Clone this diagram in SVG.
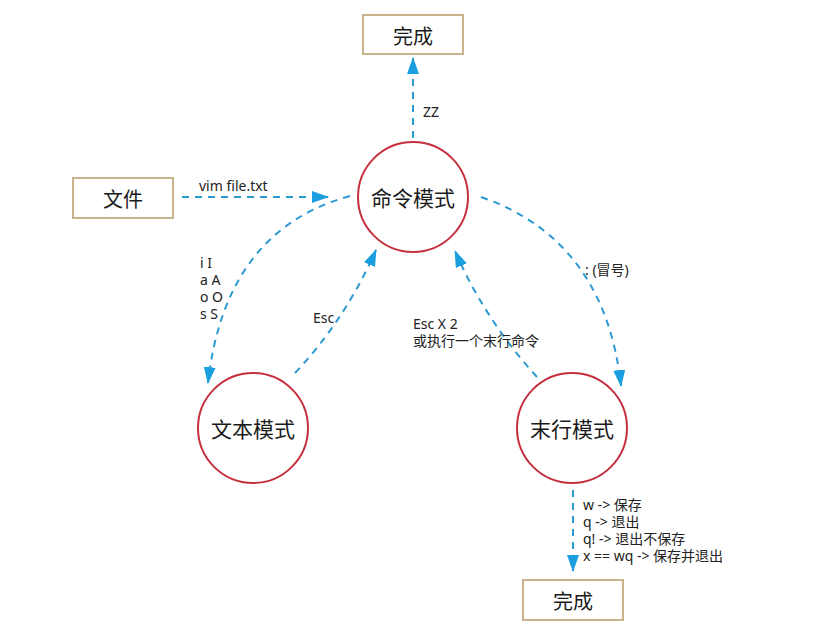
<svg xmlns="http://www.w3.org/2000/svg" width="828" height="644" viewBox="0 0 828 644">
<style>
.box{fill:#fff;stroke:#c9b38c;stroke-width:2}
.mode{fill:#fff;stroke:#c62f3e;stroke-width:2}
.nt{font-family:"Noto Sans CJK SC","Noto Sans",sans-serif;font-size:20px;fill:#1a1a1a;text-anchor:middle;dominant-baseline:central}
.ct{font-size:21px}
.lb{font-family:"Noto Sans","Noto Sans CJK SC",sans-serif;font-size:14px;fill:#222}
.edge{fill:none;stroke:#2c9ad0;stroke-width:2;stroke-dasharray:7 6}
</style>
<defs>
<marker id="ah" markerUnits="userSpaceOnUse" markerWidth="18" markerHeight="14" refX="16" refY="6" orient="auto">
<path d="M0,0 L17,6 L0,12 Z" fill="#1a9ee0"/>
</marker>
</defs>
<rect width="828" height="644" fill="#fff"/>
<g id="edges">
<path class="edge" d="M413,138 L413,58" marker-end="url(#ah)"/>
<path class="edge" d="M182,197 L328,197" marker-end="url(#ah)"/>
<path class="edge" d="M350,196 Q225,230 208,383" marker-end="url(#ah)"/>
<path class="edge" d="M295,373 Q345,320 376,250" marker-end="url(#ah)"/>
<path class="edge" d="M537,377 Q485,320 455,251" marker-end="url(#ah)"/>
<path class="edge" d="M481,197 Q605,240 621,386" marker-end="url(#ah)"/>
<path class="edge" d="M573,490 L573,571" marker-end="url(#ah)"/>
</g>
<g id="done-top"><rect class="box" x="363" y="15" width="100" height="39"/><text class="nt" x="413" y="35">完成</text></g>
<g id="file"><rect class="box" x="73" y="178" width="100" height="40"/><text class="nt" x="123" y="198">文件</text></g>
<g id="command"><circle class="mode" cx="413" cy="197" r="55"/><text class="nt ct" x="413" y="197">命令模式</text></g>
<g id="insert"><circle class="mode" cx="253" cy="428" r="55"/><text class="nt ct" x="253" y="428">文本模式</text></g>
<g id="lastline"><circle class="mode" cx="572" cy="428" r="55"/><text class="nt ct" x="572" y="428">末行模式</text></g>
<g id="done-bottom"><rect class="box" x="523" y="580" width="100" height="40"/><text class="nt" x="573" y="600">完成</text></g>
<g id="labels">
<text class="lb" x="423" y="117">ZZ</text>
<text class="lb" x="199" y="191">vim file.txt</text>
<text class="lb" x="200" y="268">i I</text>
<text class="lb" x="200" y="285">a A</text>
<text class="lb" x="200" y="302">o O</text>
<text class="lb" x="200" y="319">s S</text>
<text class="lb" x="313" y="323">Esc</text>
<text class="lb" x="413" y="329">Esc X 2</text>
<text class="lb" x="413" y="346">或执行一个末行命令</text>
<text class="lb" x="585" y="275">: (冒号)</text>
<text class="lb" x="583" y="510">w -&gt; 保存</text>
<text class="lb" x="583" y="527">q -&gt; 退出</text>
<text class="lb" x="583" y="544">q! -&gt; 退出不保存</text>
<text class="lb" x="583" y="561">x == wq -&gt; 保存并退出</text>
</g>
</svg>
